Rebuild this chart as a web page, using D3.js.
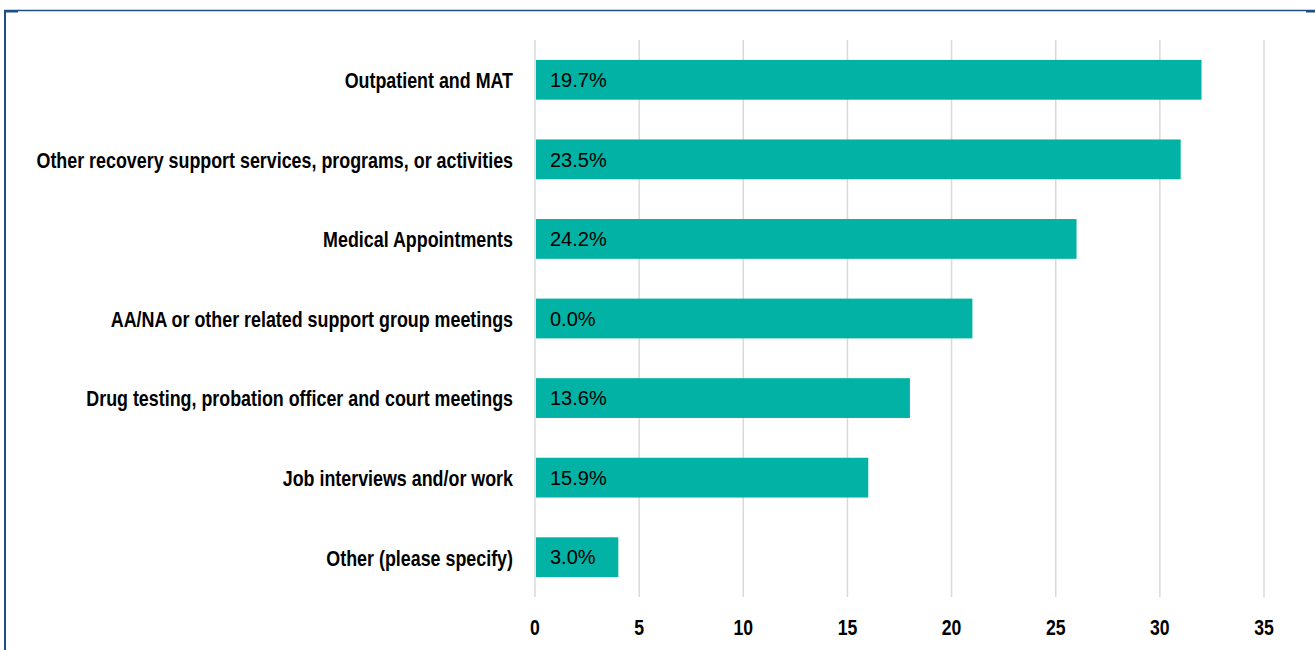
<!DOCTYPE html>
<html>
<head>
<meta charset="utf-8">
<script src="https://cdn.jsdelivr.net/npm/d3@7"></script>
<style>
  body { margin: 0; background: #fff; }
  svg { display: block; }
</style>
</head>
<body>
<div id="chart"></div>
<script>
// data
var categories = [
  "Outpatient and MAT",
  "Other recovery support services, programs, or activities",
  "Medical Appointments",
  "AA/NA or other related support group meetings",
  "Drug testing, probation officer and court meetings",
  "Job interviews and/or work",
  "Other (please specify)"
];
var counts = [32, 31, 26, 21, 18, 16, 4];
var percentLabels = ["19.7%", "23.5%", "24.2%", "0.0%", "13.6%", "15.9%", "3.0%"];
var xTicks = [0, 5, 10, 15, 20, 25, 30, 35];

var width = 1315, height = 650;
var plotLeft = 535, plotRight = 1264, plotTop = 40, plotBottom = 597;

var svg = d3.select("#chart").append("svg")
    .attr("width", width)
    .attr("height", height);

// frame
var frame = "#1f4e85";
svg.append("line").attr("x1", 4).attr("x2", 1315).attr("y1", 10.5).attr("y2", 10.5)
    .attr("stroke", frame).attr("stroke-width", 1.5);
svg.append("line").attr("x1", 5).attr("x2", 5).attr("y1", 10).attr("y2", 650)
    .attr("stroke", frame).attr("stroke-width", 2);
svg.append("rect").attr("x", 4).attr("y", 10).attr("width", 14).attr("height", 2.5).attr("fill", frame);
svg.append("rect").attr("x", 1306).attr("y", 10).attr("width", 9).attr("height", 2.5).attr("fill", frame);

var data = categories.map(function(c, i) {
    return { name: c, value: counts[i], label: percentLabels[i] };
});

var x = d3.scaleLinear().domain([0, 35]).range([plotLeft, plotRight]);
var y = d3.scaleBand().domain(categories).range([plotTop, plotBottom]).paddingInner(0.5).paddingOuter(0.25);

// gridlines
svg.append("g").selectAll("line")
    .data(xTicks)
    .enter().append("line")
    .attr("x1", function(d) { return x(d); })
    .attr("x2", function(d) { return x(d); })
    .attr("y1", plotTop)
    .attr("y2", plotBottom)
    .attr("stroke", "#d9d9d9")
    .attr("stroke-width", 1.5);

// bars
svg.append("g").selectAll("rect")
    .data(data)
    .enter().append("rect")
    .attr("x", x(0) + 1)
    .attr("y", function(d) { return y(d.name); })
    .attr("width", function(d) { return x(d.value) - x(0) - 1; })
    .attr("height", y.bandwidth())
    .attr("fill", "#02b2a4");

// value labels
svg.append("g").selectAll("text")
    .data(data)
    .enter().append("text")
    .attr("x", x(0) + 15)
    .attr("y", function(d) { return y(d.name) + y.bandwidth() / 2; })
    .attr("dy", "0.36em")
    .style("font-family", "'Liberation Sans', Arial, sans-serif")
    .style("font-size", "20px")
    .attr("fill", "#000")
    .text(function(d) { return d.label; });

// category labels, squeezed to look like a condensed face
var labelFont = "'Liberation Sans', Arial, sans-serif";
var labels = svg.append("g").selectAll("text")
    .data(categories)
    .enter().append("text")
    .attr("text-anchor", "end")
    .attr("dy", "0.36em")
    .style("font-family", labelFont)
    .style("font-weight", "bold")
    .style("font-size", "23px")
    .attr("fill", "#000")
    .text(function(d) { return d; });

var longest = d3.max(labels.nodes(), function(n) { return n.getComputedTextLength(); });
var sx = 477 / longest;
labels.attr("transform", function(d) {
    return "translate(513," + (y(d) + y.bandwidth() / 2) + ") scale(" + sx + ",1)";
});

// x axis tick labels
svg.append("g").selectAll("text")
    .data(xTicks)
    .enter().append("text")
    .attr("transform", function(d) { return "translate(" + x(d) + ",627) scale(0.8,1)"; })
    .attr("dy", "0.36em")
    .attr("text-anchor", "middle")
    .style("font-family", labelFont)
    .style("font-weight", "bold")
    .style("font-size", "22px")
    .attr("fill", "#000")
    .text(function(d) { return d; });
</script>
</body>
</html>
